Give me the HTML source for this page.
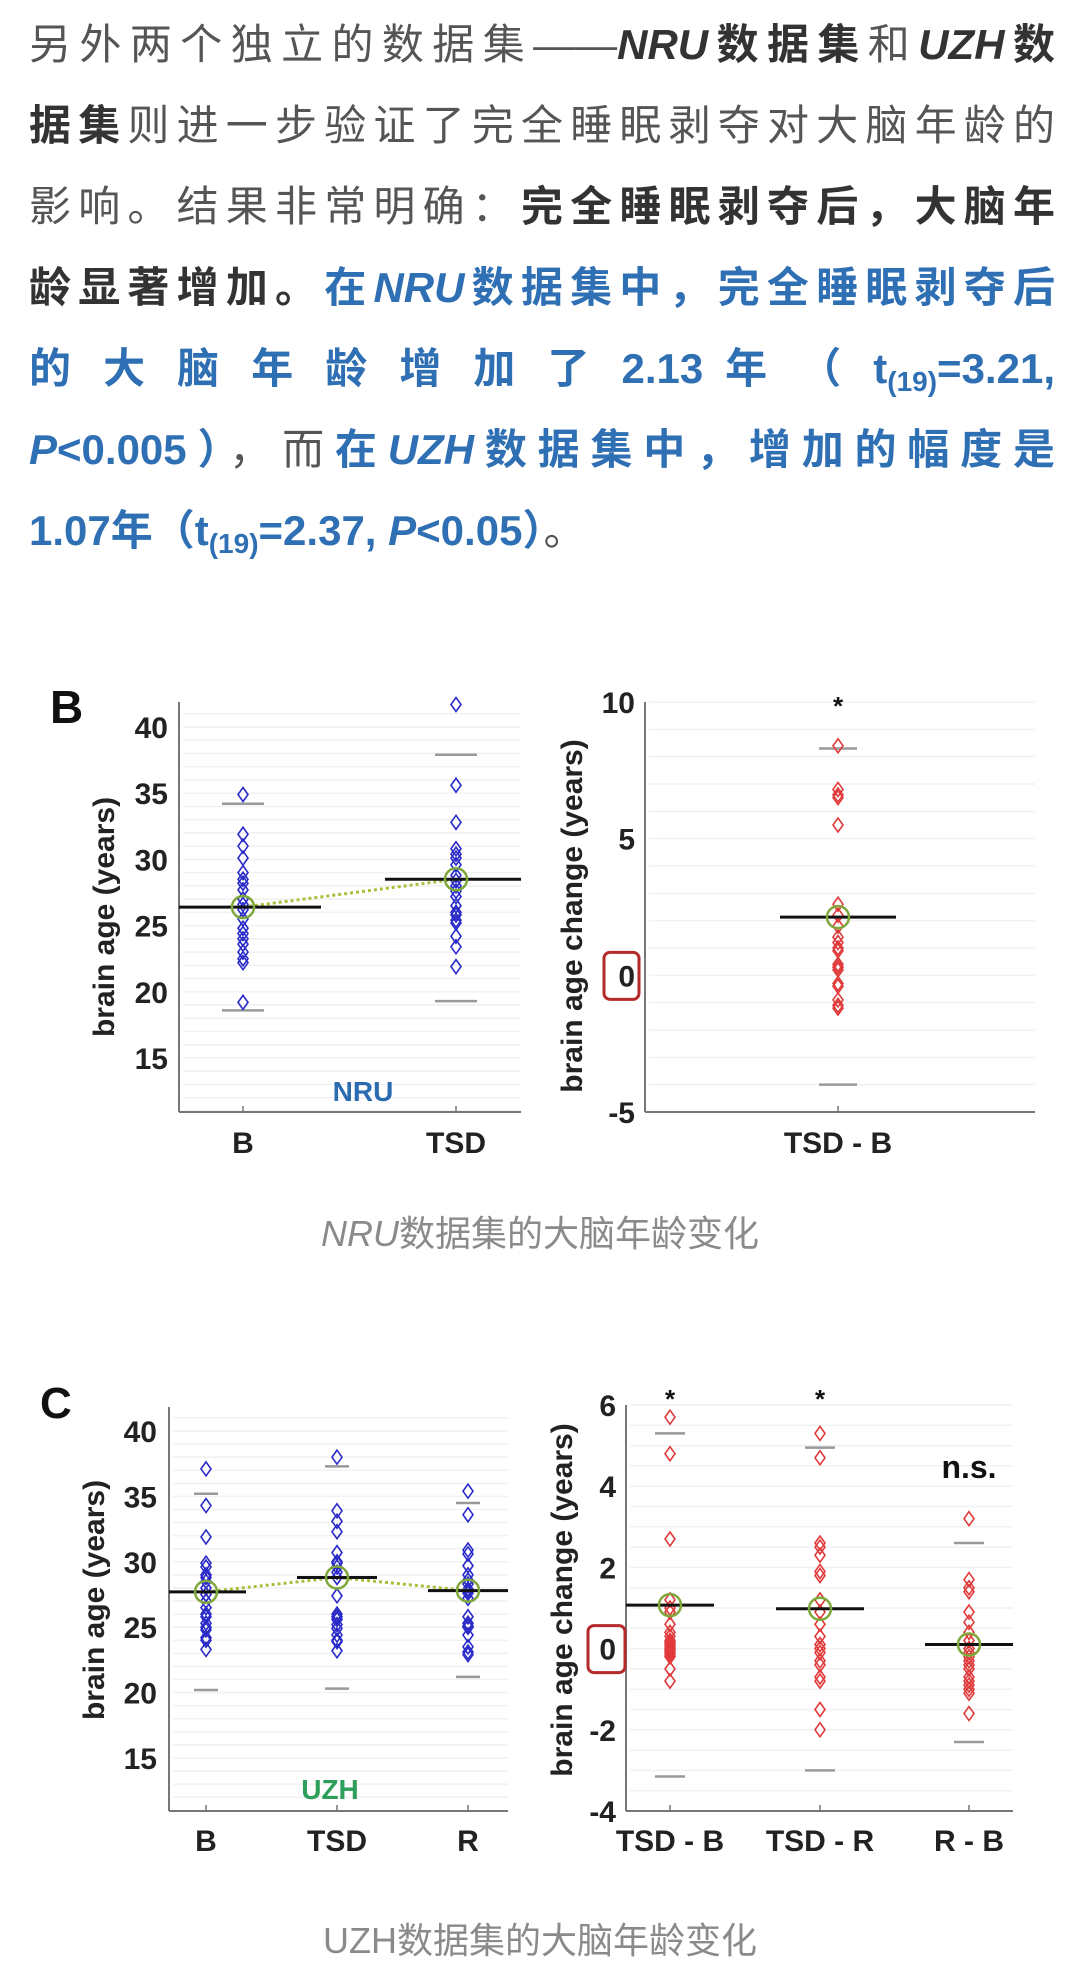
<!DOCTYPE html>
<html><head><meta charset="utf-8">
<style>
html,body{margin:0;padding:0;background:#fff;}
body{width:1080px;height:1960px;position:relative;overflow:hidden;font-family:"Liberation Sans","Noto Sans CJK SC",sans-serif;}
.para{position:absolute;left:29px;width:1026px;font-size:42px;line-height:50px;color:#555;text-align:justify;text-align-last:justify;white-space:nowrap;}
.b{font-weight:bold;color:#333;}
.bl{font-weight:bold;color:#2f6fb3;}
.i{font-style:italic;}
sub{font-size:28px;vertical-align:-8px;line-height:0;}
.cap{position:absolute;left:0;width:1080px;text-align:center;font-size:36px;color:#8a8a8a;}
svg{position:absolute;left:0;top:0;}
</style></head>
<body>
<div>
<div class="para" style="top:20px">另外两个独立的数据集——<span class="b"><span class="i">NRU</span>数据集</span>和<span class="b"><span class="i">UZH</span>数</span></div>
<div class="para" style="top:101px"><span class="b">据集</span>则进一步验证了完全睡眠剥夺对大脑年龄的</div>
<div class="para" style="top:182px">影响。结果非常明确：<span class="b">完全睡眠剥夺后，大脑年</span></div>
<div class="para" style="top:263px"><span class="b">龄显著增加。</span><span class="bl">在<span class="i">NRU</span>数据集中，完全睡眠剥夺后</span></div>
<div class="para" style="top:344px"><span class="bl">的 大 脑 年 龄 增 加 了 2.13 年 （ t<sub>(19)</sub>=3.21,</span></div>
<div class="para" style="top:425px"><span class="bl"><span class="i">P</span>&lt;0.005）</span>，而<span class="bl">在<span class="i">UZH</span>数据集中，增加的幅度是</span></div>
<div class="para" style="top:506px;text-align-last:left"><span class="bl">1.07年（t<sub>(19)</sub>=2.37, <span class="i">P</span>&lt;0.05）</span>。</div>
</div>
<div class="cap" style="top:1205px"><span class="i">NRU</span>数据集的大脑年龄变化</div>
<div class="cap" style="top:1912px">UZH数据集的大脑年龄变化</div>

<svg id="chart" width="1080" height="1960"></svg>

<script>
// Panel B left (NRU brain age)
const nruCategories = ["B", "TSD"];
const nruB = [34.9, 31.9, 31.0, 30.1, 29.0, 28.5, 28.2, 27.7, 27.0, 26.6, 26.2, 25.5, 24.8, 24.4, 24.0, 23.6, 23.0, 22.5, 22.2, 19.2];
const nruTSD = [41.7, 35.6, 32.8, 30.8, 30.4, 30.1, 29.6, 28.8, 28.4, 28.0, 27.6, 27.2, 26.5, 26.0, 25.8, 25.4, 25.2, 24.2, 23.4, 21.9];
const nruMeans = [26.4, 28.5];
const nruUpper = [34.2, 37.9];
const nruLower = [18.6, 19.3];
const nruTicks = [15, 20, 25, 30, 35, 40];
// Panel B right (NRU change)
const nruChangeCategories = ["TSD - B"];
const nruChange = [8.4, 6.8, 6.6, 6.5, 5.5, 2.6, 2.2, 1.8, 1.4, 1.2, 1.0, 0.9, 0.4, 0.3, 0.2, -0.3, -0.4, -0.9, -1.1, -1.2];
const nruChangeMean = [2.13];
const nruChangeUpper = [8.3];
const nruChangeLower = [-4.0];
const nruChangeTicks = [-5, 0, 5, 10];
const nruChangeSig = ["*"];
// Panel C left (UZH brain age)
const uzhCategories = ["B", "TSD", "R"];
const uzhB = [37.1, 34.3, 31.9, 29.9, 29.6, 29.0, 28.8, 28.5, 28.0, 27.5, 27.0, 26.5, 26.0, 25.8, 25.3, 25.0, 24.8, 24.2, 24.0, 23.3];
const uzhTSD = [38.0, 33.9, 33.1, 32.3, 30.7, 30.0, 29.9, 29.6, 29.2, 28.8, 27.4, 26.0, 25.8, 25.6, 25.2, 24.9, 24.4, 24.0, 23.9, 23.2];
const uzhR = [35.4, 33.6, 30.9, 30.6, 29.7, 29.0, 28.6, 28.3, 27.9, 27.8, 27.6, 27.2, 25.8, 25.3, 25.1, 25.0, 24.4, 23.5, 23.1, 22.9];
const uzhMeans = [27.7, 28.8, 27.8];
const uzhUpper = [35.2, 37.3, 34.5];
const uzhLower = [20.2, 20.3, 21.2];
const uzhTicks = [15, 20, 25, 30, 35, 40];
// Panel C right (UZH change)
const uzhChangeCategories = ["TSD - B", "TSD - R", "R - B"];
const uzhTSDmB = [5.7, 4.8, 2.7, 1.2, 1.0, 0.9, 0.6, 0.4, 0.3, 0.2, 0.15, 0.1, 0.05, 0.0, -0.05, -0.1, -0.15, -0.2, -0.5, -0.8];
const uzhTSDmR = [5.3, 4.7, 2.6, 2.5, 2.3, 1.9, 1.8, 1.2, 0.9, 0.6, 0.3, 0.1, 0.0, -0.1, -0.3, -0.4, -0.7, -0.8, -1.5, -2.0];
const uzhRmB = [3.2, 1.7, 1.5, 1.4, 0.9, 0.65, 0.4, 0.2, 0.0, -0.1, -0.2, -0.3, -0.4, -0.5, -0.7, -0.8, -0.9, -1.0, -1.1, -1.6];
const uzhChangeMeans = [1.07, 0.98, 0.1];
const uzhChangeUpper = [5.3, 4.95, 2.6];
const uzhChangeLower = [-3.15, -3.0, -2.3];
const uzhChangeTicks = [-4, -2, 0, 2, 4, 6];
const uzhChangeSig = ["*", "*", "n.s."];

const svg = document.getElementById('chart');
const NS = 'http://www.w3.org/2000/svg';
function el(tag, attrs, parent) {
  const e = document.createElementNS(NS, tag);
  for (const k in attrs) e.setAttribute(k, attrs[k]);
  (parent || svg).appendChild(e);
  return e;
}
function txt(s, attrs, parent) { const t = el('text', attrs, parent); t.textContent = s; return t; }

function makeLinear(v0, p0, v1, p1) { return v => p0 + (v - v0) * (p1 - p0) / (v1 - v0); }

function diamond(g, cx, cy, color) {
  const p = el('path', {d: `M${cx} ${cy-7} L${cx+5} ${cy} L${cx} ${cy+7} L${cx-5} ${cy} Z`, fill: 'none', stroke: color, 'stroke-width': 1.6}, g);
  
  
}

function panel(cfg) {
  const g = el('g', {});
  
  
  const y = makeLinear(cfg.v0, cfg.p0, cfg.v1, cfg.p1);
  const x = i => cfg.xs[i];
  for (let v = cfg.gridFrom; v <= cfg.gridTo + 1e-9; v += cfg.gridStep) {
    const gl = el('line', {x1: cfg.left + 4, x2: cfg.right, y1: y(v), y2: y(v), stroke: '#f1f1f1', 'stroke-width': 1.5}, g);
    
    
  }
  const ya = el('line', {x1: cfg.left, x2: cfg.left, y1: cfg.top, y2: cfg.bottom, stroke: '#777', 'stroke-width': 2}, g);
  
  
  const xa = el('line', {x1: cfg.left, x2: cfg.right, y1: cfg.bottom, y2: cfg.bottom, stroke: '#777', 'stroke-width': 2}, g);
  
  
  cfg.ticks.forEach(t => {
    const tl = txt(String(t), {x: cfg.tickX, y: y(t) + 11, 'text-anchor': 'end', 'font-size': 30, 'font-weight': 'bold', fill: '#222'}, g);
    
    
  });
  const yt = txt(cfg.ytitle, {x: 0, y: 0, 'text-anchor': 'middle', 'font-size': 30, 'font-weight': 'bold', fill: '#222', transform: `translate(${cfg.ytitleX},${cfg.ytitleY}) rotate(-90)`}, g);
  
  
  cfg.categories.forEach((c, i) => {
    const tk = el('line', {x1: x(i), x2: x(i), y1: cfg.bottom, y2: cfg.bottom - 6, stroke: '#777', 'stroke-width': 1.5}, g);
    
    
    const cl = txt(c, {x: x(i), y: cfg.catY, 'text-anchor': 'middle', 'font-size': 30, 'font-weight': 'bold', fill: '#222'}, g);
    
    
  });
  cfg.series.forEach((arr, i) => {
    const gu = el('line', {x1: x(i) - cfg.gw, x2: x(i) + cfg.gw, y1: y(cfg.upper[i]), y2: y(cfg.upper[i]), stroke: '#999', 'stroke-width': 2.5}, g);
    
    
    const gdl = el('line', {x1: x(i) - cfg.gw, x2: x(i) + cfg.gw, y1: y(cfg.lower[i]), y2: y(cfg.lower[i]), stroke: '#999', 'stroke-width': 2.5}, g);
    
    
    arr.forEach(v => diamond(g, x(i), y(v), cfg.color));
  });
  if (cfg.connect) {
    let d = '';
    cfg.means.forEach((m, i) => { d += (i ? 'L' : 'M') + x(i) + ' ' + y(m); });
    const cl = el('path', {d: d, fill: 'none', stroke: '#a4c23a', 'stroke-width': 3, 'stroke-dasharray': '3 3'}, g);
    
    
  }
  cfg.means.forEach((m, i) => {
    const ml = el('line', {x1: Math.max(cfg.left, x(i) - cfg.mw[0]), x2: Math.min(cfg.right, x(i) + cfg.mw[1]), y1: y(m), y2: y(m), stroke: '#111', 'stroke-width': 3}, g);
    
    
    const mc = el('circle', {cx: x(i), cy: y(m), r: 11, fill: 'none', stroke: '#7fa83c', 'stroke-width': 2.5}, g);
    
    
  });
  if (cfg.sig) cfg.sig.forEach((s, i) => {
    const st = txt(s, {x: x(i), y: s === '*' ? cfg.starY : cfg.nsY, 'text-anchor': 'middle', 'font-size': s === '*' ? 26 : 32, 'font-weight': 'bold', fill: '#111'}, g);
    
    
  });
  if (cfg.zeroBox) {
    const zb = el('rect', {x: cfg.zeroBox[0], y: y(0) - 23, width: cfg.zeroBox[1], height: 47, rx: 6, fill: 'none', stroke: '#b52a2a', 'stroke-width': 3}, g);
    
    
  }
  return g;
}

panel({name: 'nru-brain-age-panel', v0: 40, p0: 727, v1: 15, p1: 1058, left: 179, right: 521, top: 702, bottom: 1112,
  gridFrom: 11, gridTo: 41, gridStep: 1, ticks: nruTicks, tickX: 168, ytitle: 'brain age (years)', ytitleX: 114, ytitleY: 917,
  categories: nruCategories, xs: [243, 456], catY: 1153, series: [nruB, nruTSD], upper: nruUpper, lower: nruLower, gw: 21,
  means: nruMeans, mw: [71, 78], connect: true, color: '#2a2ac8'});
panel({name: 'nru-change-panel', v0: 10, p0: 702, v1: -5, p1: 1112, left: 645, right: 1035, top: 702, bottom: 1112,
  gridFrom: -5, gridTo: 10, gridStep: 1, ticks: nruChangeTicks, tickX: 635, ytitle: 'brain age change (years)', ytitleX: 582, ytitleY: 916,
  categories: nruChangeCategories, xs: [838], catY: 1153, series: [nruChange], upper: nruChangeUpper, lower: nruChangeLower, gw: 19,
  means: nruChangeMean, mw: [58, 58], connect: false, color: '#e03a3a', sig: nruChangeSig, starY: 715, zeroBox: [604, 35]});
panel({name: 'uzh-brain-age-panel', v0: 40, p0: 1431, v1: 15, p1: 1758, left: 169, right: 508, top: 1407, bottom: 1811,
  gridFrom: 12, gridTo: 41, gridStep: 1, ticks: uzhTicks, tickX: 157, ytitle: 'brain age (years)', ytitleX: 104, ytitleY: 1600,
  categories: uzhCategories, xs: [206, 337, 468], catY: 1851, series: [uzhB, uzhTSD, uzhR], upper: uzhUpper, lower: uzhLower, gw: 12,
  means: uzhMeans, mw: [40, 40], connect: true, color: '#2a2ac8'});
panel({name: 'uzh-change-panel', v0: 6, p0: 1405, v1: -4, p1: 1811, left: 626, right: 1013, top: 1405, bottom: 1811,
  gridFrom: -4, gridTo: 6, gridStep: 0.5, ticks: uzhChangeTicks, tickX: 616, ytitle: 'brain age change (years)', ytitleX: 572, ytitleY: 1600,
  categories: uzhChangeCategories, xs: [670, 820, 969], catY: 1851, series: [uzhTSDmB, uzhTSDmR, uzhRmB], upper: uzhChangeUpper, lower: uzhChangeLower, gw: 15,
  means: uzhChangeMeans, mw: [44, 44], connect: false, color: '#e03a3a', sig: uzhChangeSig, starY: 1408, nsY: 1478, zeroBox: [588, 37]});

const lb = txt('B', {x: 50, y: 723, 'font-size': 46, 'font-weight': 'bold', fill: '#111'});


const lc = txt('C', {x: 40, y: 1418, 'font-size': 44, 'font-weight': 'bold', fill: '#111'});


const nl = txt('NRU', {x: 363, y: 1101, 'text-anchor': 'middle', 'font-size': 28, 'font-weight': 'bold', fill: '#2b6cb0'});


const ul = txt('UZH', {x: 330, y: 1799, 'text-anchor': 'middle', 'font-size': 28, 'font-weight': 'bold', fill: '#2e9e5b'});


</script>
</body></html>
